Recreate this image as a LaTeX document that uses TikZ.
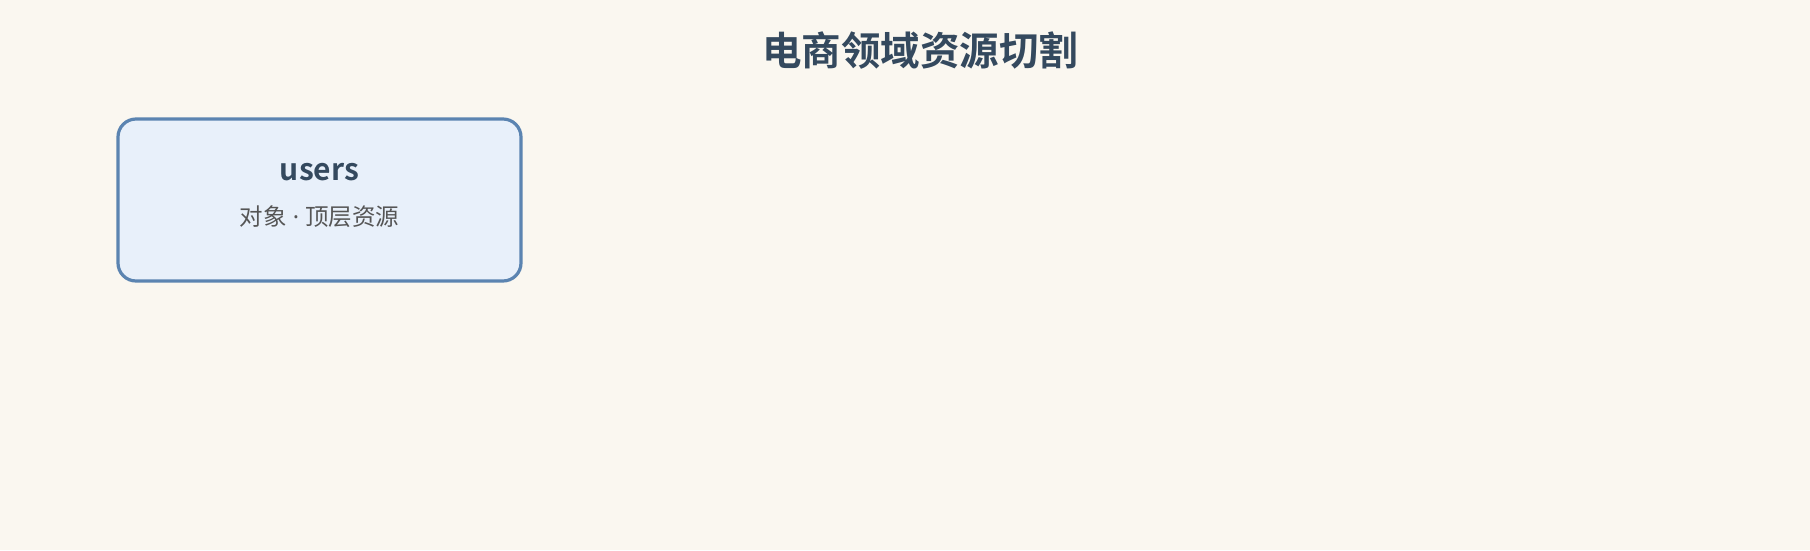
\documentclass[tikz,border=0pt]{standalone}
\usepackage{fontspec}
\setmainfont{Noto Sans CJK SC}
\newfontfamily\cjkbold{Noto Sans CJK SC Bold}
\newfontfamily\latfont{Noto Sans}
\definecolor{bg}{HTML}{FAF7F0}
\definecolor{boxfill}{HTML}{E8F0FA}
\definecolor{boxline}{HTML}{5B84B1}
\definecolor{titlec}{HTML}{34495E}
\definecolor{subc}{HTML}{555555}
\tikzset{
  resbox/.style={draw=boxline, line width=3.2pt, fill=boxfill, rounded corners=18pt, minimum width=403pt, minimum height=162pt, inner sep=0pt},
  titletext/.style={text=titlec, font=\cjkbold\fontsize{39.5}{46}\selectfont, inner sep=0pt},
  nametext/.style={text=titlec, font=\cjkbold\fontsize{30}{34}\selectfont, inner sep=0pt},
  subtext/.style={text=subc, font=\fontsize{23.5}{28}\selectfont, inner sep=0pt}
}
\begin{document}
\begin{tikzpicture}[x=1pt,y=-1pt]
\fill[bg] (0,0) rectangle (1810,550);
\useasboundingbox (0,0) rectangle (1810,550);
\node[titletext] (title) at (920,51) {电商领域资源切割};
\node[resbox] (users) at (319.5,200) {};
\node[nametext] (uname) at (319.5,172) {users};
\node[subtext] (usub) at (319.5,217) {对象{\latfont\ ·\ }顶层资源};
\end{tikzpicture}
\end{document}
